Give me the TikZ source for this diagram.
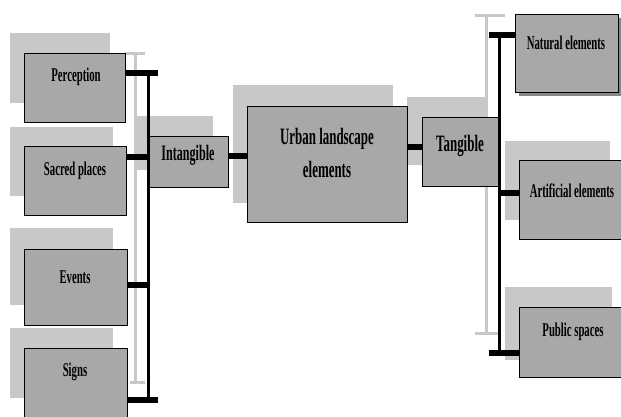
\documentclass[tikz,border=0pt]{standalone}
\usepackage{fontspec}
\usepackage{tikz}
\newfontfamily\lblfont[FakeStretch=0.55]{Liberation Serif}

\definecolor{boxgray}{RGB}{168,168,168}
\definecolor{backgray}{RGB}{200,200,200}
\definecolor{dropgray}{RGB}{135,135,135}

\tikzset{
  box/.style={draw=black, line width=1.2pt, fill=boxgray, anchor=north west, inner sep=0pt},
  lbl/.style={font=\lblfont\bfseries\fontsize{19.5}{21}\selectfont, inner sep=0pt},
  biglbl/.style={font=\lblfont\bfseries\fontsize{23.5}{33}\selectfont, inner sep=0pt, align=center},
  backbox/.style={fill=backgray},
  backbus/.style={draw=backgray, line width=3pt},
  bus/.style={draw=black, line width=3pt},
  stub/.style={draw=black, line width=6pt}
}

\begin{document}
\begin{tikzpicture}[x=1pt,y=-1pt]

	\useasboundingbox[fill=white] (0,0) rectangle (621,416);

	% light gray shadows behind the boxes
	\fill[backbox] (10,33)   rectangle (110,103);
	\fill[backbox] (10,127)  rectangle (113,196);
	\fill[backbox] (10,228)  rectangle (113,305);
	\fill[backbox] (10,328)  rectangle (113,398);
	\fill[backbox] (134,116) rectangle (213,170);
	\fill[backbox] (233,85)  rectangle (393,203);
	\fill[backbox] (407,97)  rectangle (487,165);
	\fill[backbox] (505,141) rectangle (610,220);
	\fill[backbox] (505,287) rectangle (612,360);
	\fill[dropgray] (519,18) rectangle (621,96);

	% gray shadow buses
	\draw[backbus] (135,53) -- (135,382);
	\draw[backbus] (125,53) -- (145,53);
	\draw[backbus] (130,382) -- (145,382);
	\draw[backbus] (486,15) -- (486,333);
	\draw[backbus] (475,15) -- (505,15);
	\draw[backbus] (475,333) -- (500,333);

	% boxes
	\node[box, minimum width=101pt, minimum height=69pt] (perc)    at (24,53)   {};
	\node[box, minimum width=102pt, minimum height=69pt] (sacred)  at (24,146)  {};
	\node[box, minimum width=103pt, minimum height=76pt] (events)  at (24,249)  {};
	\node[box, minimum width=103pt, minimum height=76pt] (signs)   at (24,348)  {};
	\node[box, minimum width=80pt,  minimum height=51pt] (intang)  at (148,136) {};
	\node[box, minimum width=160pt, minimum height=116pt] (urban)  at (247,106) {};
	\node[box, minimum width=76pt,  minimum height=69pt] (tang)    at (422,117) {};
	\node[box, minimum width=103pt, minimum height=78pt] (natural) at (515,14)  {};
	\node[box, minimum width=104pt, minimum height=79pt] (artif)   at (519,160) {};
	\node[box, minimum width=104pt, minimum height=70pt] (public)  at (519,307) {};

	% labels
	\node[lbl]    (perc-l)    at (76,77)    {Perception};
	\node[lbl]    (sacred-l)  at (75,171)   {Sacred places};
	\node[lbl]    (events-l)  at (75,277)   {Events};
	\node[lbl]    (signs-l)   at (75,372)   {Signs};
	\node[biglbl] (intang-l)  at (188,155)  {\fontsize{22}{24}\selectfont Intangible};
	\node[biglbl] (urban-l)   at (327,153)  {Urban landscape\\elements};
	\node[biglbl] (tang-l)    at (460,146)  {Tangible};
	\node[lbl]    (natural-l) at (566,43)   {Natural elements};
	\node[lbl]    (artif-l)   at (572,191)  {Artificial elements};
	\node[lbl]    (public-l)  at (573,332)  {Public spaces};

	% left bus
	\coordinate (ltop) at (158,73);
	\coordinate (lbot) at (158,400);
	\draw[bus]  (ltop -| intang.west) -- (lbot -| intang.west);
	\draw[stub] (perc.east |- ltop) -- (ltop);
	\draw[stub] (sacred.east |- 0,157) -- (intang.west |- 0,157);
	\draw[stub] (events.east |- 0,285) -- (intang.west |- 0,285);
	\draw[stub] (signs.east |- lbot) -- (lbot);

	% middle
	\draw[stub] (intang.east |- 0,156) -- (urban.west |- 0,156);
	\draw[stub] (urban.east |- 0,147) -- (tang.west |- 0,147);

	% right bus
	\coordinate (rtop) at (489,35);
	\coordinate (rbot) at (489,353);
	\draw[bus]  (tang.east |- rtop) -- (tang.east |- rbot);
	\draw[stub] (rtop) -- (natural.west |- rtop);
	\draw[stub] (tang.east |- 0,193) -- (artif.west |- 0,193);
	\draw[stub] (rbot) -- (public.west |- rbot);

\end{tikzpicture}
\end{document}
